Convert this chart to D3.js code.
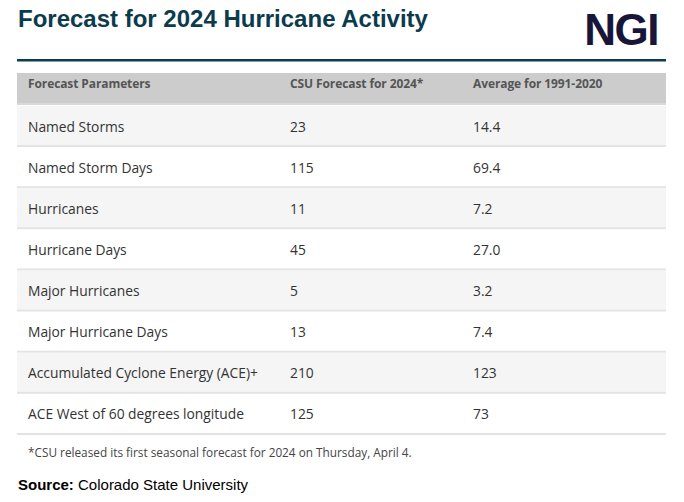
<!DOCTYPE html>
<html><head><meta charset="utf-8">
<script src="https://cdn.jsdelivr.net/npm/d3@7"></script>
<style>body{margin:0;background:#fff}svg{display:block}</style>
</head><body>
<script>
const title = "Forecast for 2024 Hurricane Activity";
const headers = ["Forecast Parameters", "CSU Forecast for 2024*", "Average for 1991-2020"];
const params = ["Named Storms","Named Storm Days","Hurricanes","Hurricane Days","Major Hurricanes","Major Hurricane Days","Accumulated Cyclone Energy (ACE)+","ACE West of 60 degrees longitude"];
const csu = ["23","115","11","45","5","13","210","125"];
const avg = ["14.4","69.4","7.2","27.0","3.2","7.4","123","73"];
const footnote = "*CSU released its first seasonal forecast for 2024 on Thursday, April 4.";
const sourceLabel = "Source:";
const sourceText = " Colorado State University";

const W = 684, H = 502;
const svg = d3.select("body").append("svg").attr("width", W).attr("height", H);
const left = 17, right = 666;
const bodyFont = "'Open Sans', 'DejaVu Sans', sans-serif";

svg.append("text").attr("x", 18).attr("y", 27)
  .attr("font-family", "'Liberation Sans', Arial, sans-serif").attr("font-weight", "bold")
  .attr("font-size", 24).attr("fill", "#0c3b4d").text(title);

svg.append("text").attr("x", 658).attr("y", 45).attr("text-anchor", "end")
  .attr("font-family", "'Liberation Sans', Arial, sans-serif").attr("font-weight", "bold")
  .attr("font-size", 44).attr("fill", "#17163a").attr("letter-spacing", -1.5).text("NGI");

svg.append("rect").attr("x", left).attr("y", 59).attr("width", right - left).attr("height", 2.5).attr("fill", "#0d3d4e");

// header
svg.append("rect").attr("x", left).attr("y", 73).attr("width", right - left).attr("height", 32).attr("fill", "#cccccc");
svg.append("rect").attr("x", left).attr("y", 103).attr("width", right - left).attr("height", 2).attr("fill", "#d9d9d9");

const colX = d3.scaleOrdinal().domain([0,1,2]).range([28, 290, 473]);
svg.selectAll("text.hdr").data(headers).join("text").attr("class","hdr")
  .attr("x", (d,i) => colX(i)).attr("y", 88)
  .attr("font-family", bodyFont).attr("font-weight", 700).attr("font-size", 12)
  .attr("fill", "#555").attr("letter-spacing", -0.1).text(d => d);

const y = d3.scaleBand().domain(d3.range(params.length)).range([106, 435]);
const rows = svg.selectAll("g.row").data(params).join("g").attr("class","row")
  .attr("transform", (d,i) => `translate(0,${y(i)})`);
rows.append("rect").attr("x", left).attr("width", right - left).attr("height", y.bandwidth())
  .attr("fill", (d,i) => i % 2 === 0 ? "#f5f5f5" : "#ffffff");
rows.append("rect").attr("x", left).attr("y", y.bandwidth() - 2).attr("width", right - left).attr("height", 2)
  .attr("fill", "#e3e3e3");
const cellText = (g, fn, ci) => g.append("text").attr("x", colX(ci)).attr("y", y.bandwidth()/2 + 5)
  .attr("font-family", bodyFont).attr("font-size", 13.8).attr("fill", "#333").text(fn);
cellText(rows, d => d, 0);
cellText(rows, (d,i) => csu[i], 1);
cellText(rows, (d,i) => avg[i], 2);

svg.append("text").attr("x", 28).attr("y", 457)
  .attr("font-family", bodyFont).attr("font-size", 11.8).attr("fill", "#444").text(footnote);

const src = svg.append("text").attr("x", 18).attr("y", 490)
  .attr("font-family", "'Liberation Sans', Arial, sans-serif").attr("font-size", 15).attr("fill", "#000");
src.append("tspan").attr("font-weight", "bold").text(sourceLabel);
src.append("tspan").text(sourceText);
</script>
</body></html>
